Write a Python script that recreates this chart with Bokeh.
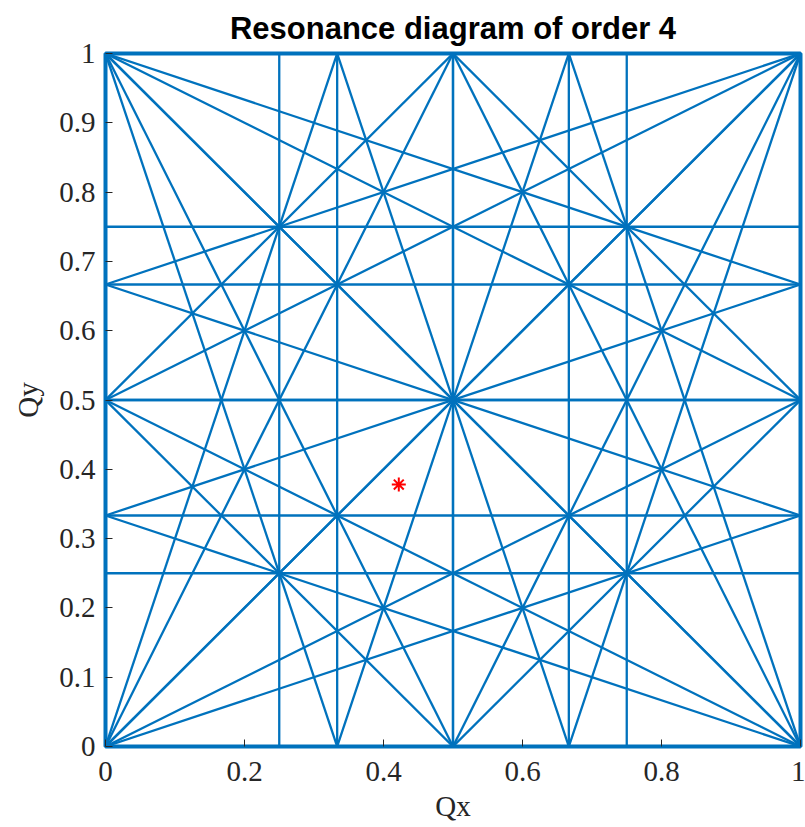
from bokeh.plotting import figure
from bokeh.models import FixedTicker
from bokeh.embed import file_html
from bokeh.resources import INLINE

# Resonance coefficients (m, n) of the lines m*Qx + n*Qy = p, orders 1 to 4
m_coef = [1, 0, 2, 0, 1, 1, 3, 0, 2, 1, 2, 1, 4, 0, 3, 1, 2, 3, 1, 2]
n_coef = [0, 1, 0, 2, 1, -1, 0, 3, 1, 2, -1, -2, 0, 4, 1, 3, 2, -1, -3, -2]

# Working point
qx_point = [0.422]
qy_point = [0.378]

x_ticks = [0, 0.2, 0.4, 0.6, 0.8, 1]
x_tick_labels = ["0", "0.2", "0.4", "0.6", "0.8", "1"]
y_ticks = [0, 0.1, 0.2, 0.3, 0.4, 0.5, 0.6, 0.7, 0.8, 0.9, 1]
y_tick_labels = ["0", "0.1", "0.2", "0.3", "0.4", "0.5", "0.6", "0.7", "0.8", "0.9", "1"]

BLUE = "#0072BD"

# Build one segment per integer p for which the line crosses the unit square
xs, ys = [], []
for m, n in zip(m_coef, n_coef):
    corners = [m * cx + n * cy for cx in (0, 1) for cy in (0, 1)]
    p_lo, p_hi = min(corners), max(corners)
    for p in range(int(p_lo), int(p_hi) + 1):
        if n == 0:
            xs.append([p / m, p / m])
            ys.append([0.0, 1.0])
        else:
            xs.append([0.0, 1.0])
            ys.append([p / n, (p - m) / n])

p = figure(
    frame_width=695, frame_height=693,
    x_range=(0, 1), y_range=(0, 1),
    output_backend="svg", toolbar_location=None,
    min_border_left=105, min_border_right=5,
    min_border_top=53, min_border_bottom=81,
    title="Resonance diagram of order 4",
)
p.background_fill_color = "white"
p.border_fill_color = "white"
p.grid.visible = False
p.outline_line_color = BLUE
p.outline_line_width = 4

p.title.align = "center"
p.title.text_font = "Liberation Sans"
p.title.text_font_style = "bold"
p.title.text_font_size = "31px"
p.title.text_color = "black"
p.title.standoff = 16

p.multi_line(xs, ys, line_color=BLUE, line_width=2.3)
p.scatter(qx_point, qy_point, marker="asterisk", size=14,
          line_color="red", line_width=2)

for ax, ticks, labels, name in ((p.xaxis[0], x_ticks, x_tick_labels, "Qx"),
                                (p.yaxis[0], y_ticks, y_tick_labels, "Qy")):
    ax.ticker = FixedTicker(ticks=ticks)
    ax.major_label_overrides = {t: l for t, l in zip(ticks, labels)}
    ax.minor_tick_line_color = None
    ax.major_tick_in = 7
    ax.major_tick_out = 0
    ax.major_tick_line_color = "#262626"
    ax.major_tick_line_width = 1
    ax.axis_line_color = None
    ax.major_label_text_font = "Liberation Serif"
    ax.major_label_text_font_size = "29px"
    ax.major_label_text_color = "#262626"
    ax.axis_label = name
    ax.axis_label_text_font = "Liberation Serif"
    ax.axis_label_text_font_style = "normal"
    ax.axis_label_text_font_size = "29px"
    ax.axis_label_text_color = "#262626"

p.xaxis.major_label_standoff = 15
p.xaxis.axis_label_standoff = 6
p.yaxis.major_label_standoff = 10
p.yaxis.axis_label_standoff = 12

open("out.html", "w").write(file_html(p, INLINE))
